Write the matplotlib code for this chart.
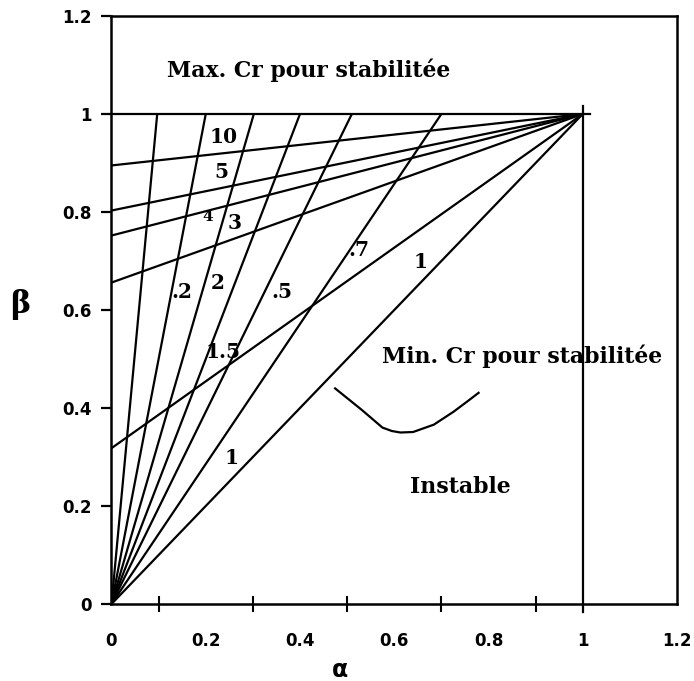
import matplotlib
matplotlib.use("Agg")
import matplotlib.pyplot as plt
import numpy as np

# ---- data ----
# fan lines from the origin: alpha where each reaches beta = 1 (Min. Cr family)
min_cr_alpha_top = [0.097, 0.200, 0.302, 0.400, 0.510, 0.700, 1.000]
# lines from (0, b) to (1, 1) (Max. Cr family)
max_cr_intercepts = [0.895, 0.803, 0.752, 0.656, 0.318]

# curve labels: text, alpha, beta, size
label_text = ["10", "5", "4", "3", ".2", "2", ".5", "1.5", ".7", "1", "1"]
label_x = [0.2375, 0.234, 0.2035, 0.262, 0.149, 0.226, 0.361, 0.2375, 0.524, 0.655, 0.255]
label_y = [0.954, 0.882, 0.790, 0.777, 0.637, 0.655, 0.637, 0.515, 0.722, 0.698, 0.298]
label_size = [14.5, 14.5, 11, 14.5, 14.5, 14.5, 14.5, 14.5, 14.5, 14.5, 14.5]

# bracket curve
bracket_x = [0.4745, 0.53, 0.575, 0.595, 0.613, 0.64, 0.684, 0.726, 0.7545, 0.779]
bracket_y = [0.440, 0.397, 0.360, 0.353, 0.350, 0.351, 0.366, 0.3925, 0.413, 0.431]

xtick_labels = ["0", "0.2", "0.4", "0.6", "0.8", "1", "1.2"]
ytick_labels = ["0", "0.2", "0.4", "0.6", "0.8", "1", "1.2"]

fig = plt.figure(figsize=(6.94, 6.81), dpi=100)
W, H = 694, 681
left, right, top, bottom = 111.5, 677, 16, 604
ax = fig.add_axes([left / W, 1 - bottom / H, (right - left) / W, (bottom - top) / H])
ax.set_xlim(0, 1.2)
ax.set_ylim(0, 1.2)

lw = 1.6
for a in min_cr_alpha_top:
    ax.plot([0, a], [0, 1], color="black", lw=lw, solid_capstyle="butt")
for b in max_cr_intercepts:
    ax.plot([0, 1], [b, 1], color="black", lw=lw, solid_capstyle="butt")

# frame lines at alpha = 1 and beta = 1
ax.plot([1, 1], [-0.017, 1.017], color="black", lw=lw, clip_on=False)
ax.plot([0, 1.015], [1, 1], color="black", lw=lw, clip_on=False)

ax.plot(bracket_x, bracket_y, color="black", lw=lw, solid_joinstyle="round")

serif = "DejaVu Serif"
for t, x, y, s in zip(label_text, label_x, label_y, label_size):
    ax.text(x, y, t, fontsize=s, fontfamily=serif, fontweight="bold",
            ha="center", va="center")

ax.text(0.117, 1.09, "Max. Cr pour stabilitée", fontsize=15.8, fontfamily=serif,
        fontweight="bold", ha="left", va="center")
ax.text(0.574, 0.505, "Min. Cr pour stabilitée", fontsize=15.8, fontfamily=serif,
        fontweight="bold", ha="left", va="center")
ax.text(0.634, 0.239, "Instable", fontsize=15.8, fontfamily=serif,
        fontweight="bold", ha="left", va="center")

# axes styling
for sp in ax.spines.values():
    sp.set_linewidth(1.8)

major = np.arange(0, 1.21, 0.2)
ax.set_xticks(major)
ax.set_xticklabels(xtick_labels)
ax.set_xticks(np.arange(0, 1.01, 0.1), minor=True)
ax.tick_params(axis="x", which="major", length=0, pad=20)
ax.tick_params(axis="x", which="minor", direction="inout", length=12, width=1.5)

ax.set_yticks(major)
ax.set_yticklabels(ytick_labels)
ax.tick_params(axis="y", which="major", direction="out", length=7, width=1.6, pad=7)

for lab in ax.get_xticklabels() + ax.get_yticklabels():
    lab.set_fontfamily("DejaVu Sans")
    lab.set_fontweight("bold")
    lab.set_fontsize(12)

fig.text(340 / W, 1 - 670 / H, "α", fontsize=17, fontweight="bold",
         fontfamily="DejaVu Sans", ha="center", va="center")
fig.text(20 / W, 1 - 305 / H, "β", fontsize=22, fontfamily=serif,
         fontweight="bold", ha="center", va="center")

fig.savefig("out.png", dpi=100)
